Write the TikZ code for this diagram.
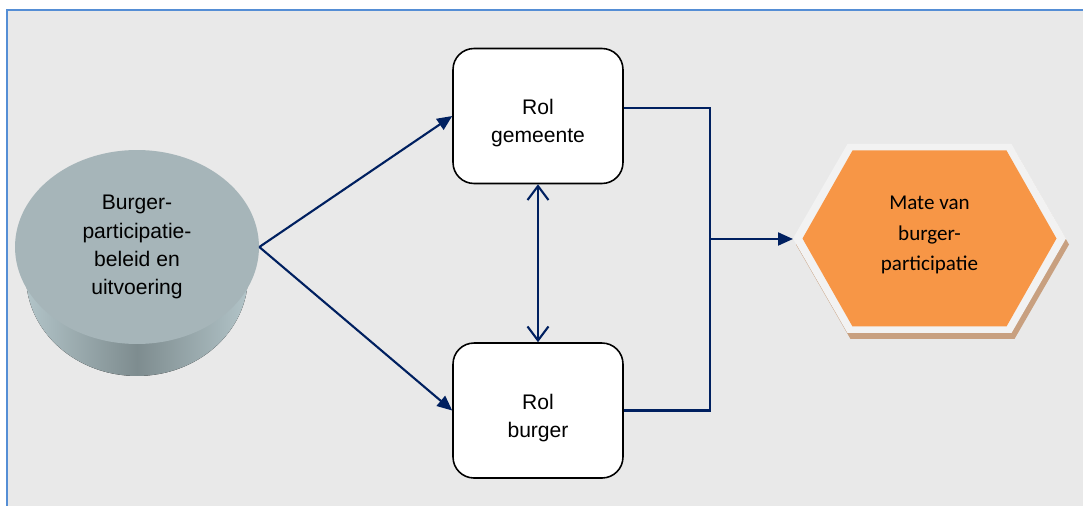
\documentclass[tikz,border=0pt]{standalone}
\usepackage{fontspec}
\setmainfont{Liberation Sans}
\newfontfamily\carlito{Carlito}
\usepackage{tikz}
\usetikzlibrary{positioning, shapes.geometric, arrows.meta}

\definecolor{achtergrond}{RGB}{233,233,233}
\definecolor{kader}{RGB}{85,142,213}
\definecolor{navy}{RGB}{0,32,96}
\definecolor{schijfboven}{RGB}{166,181,185}
\definecolor{schijfrand}{RGB}{178,196,200}
\definecolor{schijfdonker}{RGB}{126,140,143}
\definecolor{oranje}{RGB}{247,150,70}
\definecolor{hexrand}{RGB}{242,242,242}
\definecolor{hexschaduw}{RGB}{200,160,128}
\newcommand{\rolstrut}{\rule{0pt}{17pt}}

\begin{document}
\begin{tikzpicture}[x = 0.02cm, y = -0.02cm,
    every node/.style = { align = center, font = \fontsize{12}{16}\selectfont },
    rolbox/.style = { draw, fill = white, line width = .9pt, rounded corners = .42cm,
                      minimum width = 3.4cm, minimum height = 2.7cm },
    lijn/.style = { draw = navy, line width = 1.2pt },
    pijl/.style = { lijn, -{Triangle[length = .3cm, width = .26cm]} },
    dubbel/.style = { lijn, {Straight Barb[length = .28cm, width = .42cm]}-{Straight Barb[length = .28cm, width = .42cm]} }]

      \useasboundingbox (0,0) rectangle (1083,506);
      \fill[white] (0,0) rectangle (1083,506);
      \fill[achtergrond] (7,10) rectangle (1083,506);
      \draw[kader, line width = .04cm] (7,506) -- (7,10) -- (1083,10);

      % schijf
      \fill[left color = schijfrand, right color = schijfrand, middle color = schijfdonker]
        (137,276) ellipse [x radius = 2.22cm, y radius = 2cm];
      \node[ellipse, fill = schijfboven, inner sep = 0, minimum width = 4.88cm, minimum height = 3.88cm]
        (beleid) at (137,247) { Burger- \\ participatie- \\ beleid en \\ uitvoering };

      % rollen
      \node[rolbox] (gemeente) at (538,116) { \rolstrut Rol \\ gemeente };
      \node[rolbox, below = 3.16cm of gemeente] (burger) { \rolstrut Rol \\ burger };

      % zeshoek
      \begin{scope}[shift = {(929.5,238.5)}]
        \fill[hexschaduw, shift = {(3,6)}] (-136.5,0) -- (-82,-94.5) -- (82,-94.5) -- (136.5,0) -- (82,94.5) -- (-82,94.5) -- cycle;
        \fill[hexrand] (-136.5,0) -- (-82,-94.5) -- (82,-94.5) -- (136.5,0) -- (82,94.5) -- (-82,94.5) -- cycle;
        \fill[oranje] (-127,0) -- (-77,-88) -- (77,-88) -- (127,0) -- (77,88) -- (-77,88) -- cycle;
      \end{scope}
      \node[font = \carlito\fontsize{12}{17.5}\selectfont] (mate) at (929.5,235) { Mate van \\ burger- \\ participatie };
      \coordinate (mate-w) at (793,239);
      \coordinate (knik) at (710,239);

      \draw[pijl] (beleid.east) -- (gemeente.west);
      \draw[pijl] (beleid.east) -- (burger.west);
      \draw[dubbel] (gemeente) -- (burger);
      \draw[lijn] ([yshift = .16cm]gemeente.east) -| (knik) |- (burger.east);
      \draw[pijl] (knik) -- (mate-w);

    \end{tikzpicture}
\end{document}
